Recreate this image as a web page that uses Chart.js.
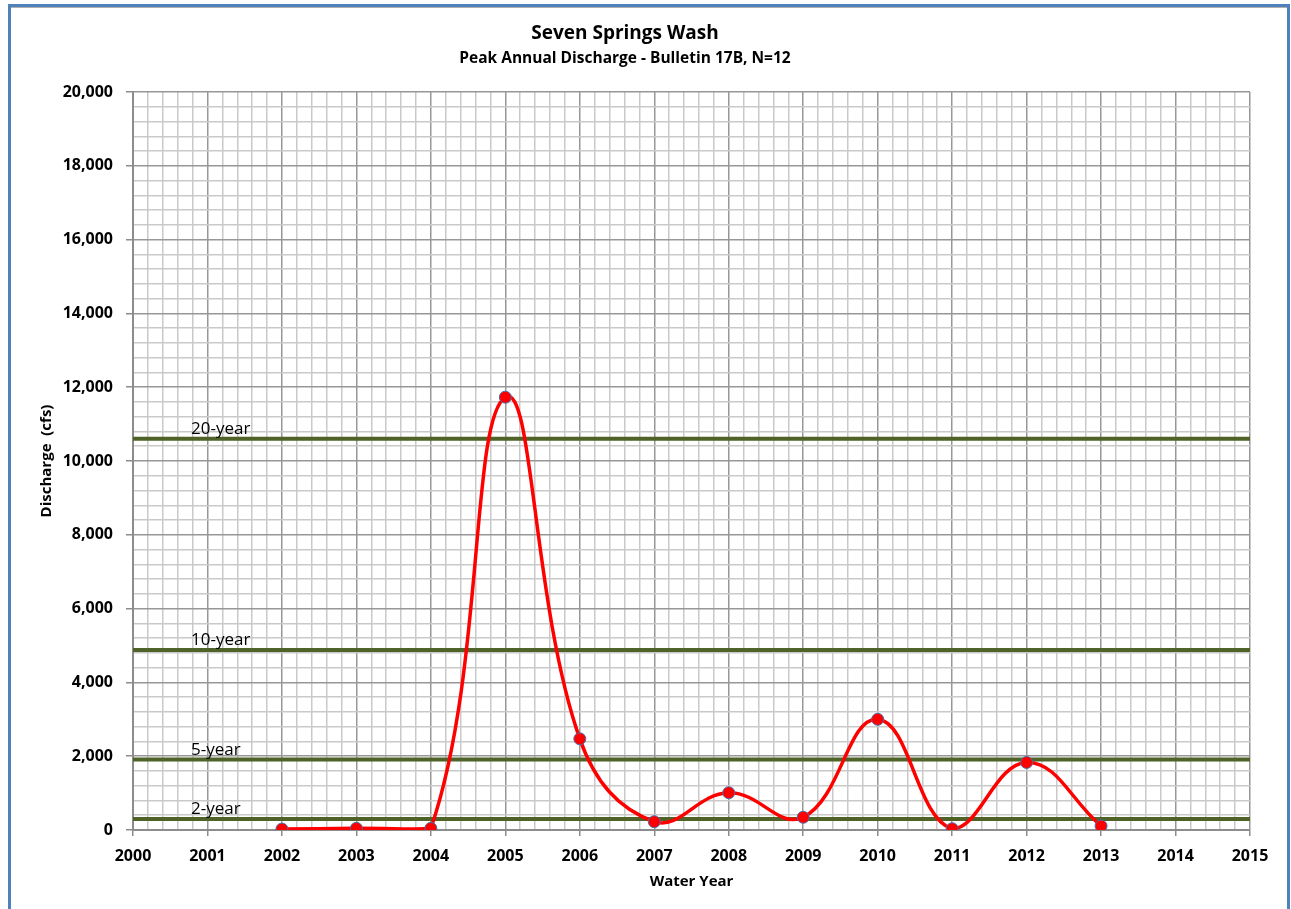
<!DOCTYPE html>
<html><head><meta charset="utf-8">
<script src="https://cdn.jsdelivr.net/npm/chart.js@4.4.1/dist/chart.umd.min.js"></script>
<style>
html,body{margin:0;padding:0;background:#fff;overflow:hidden}
#wrap{position:relative;width:1291px;height:909px}
canvas{position:absolute;left:0;top:0}
#frame{position:absolute;left:8px;top:4px;width:1282px;height:930px;border-left:3px solid #4f81bd;border-top:3px solid #4f81bd;border-right:3px solid #4f81bd;box-sizing:border-box;pointer-events:none}
#frame2{position:absolute;left:11px;top:7px;width:1276px;height:930px;border-top:1px solid #b0b0b0;box-sizing:border-box;pointer-events:none}
</style></head><body>
<div id="wrap"><canvas id="c" width="1291" height="909"></canvas><div id="frame"></div><div id="frame2"></div></div>
<script>
// ---- data ----
const years = [2002, 2003, 2004, 2005, 2006, 2007, 2008, 2009, 2010, 2011, 2012, 2013];
const discharge = [25, 45, 45, 11730, 2470, 225, 1010, 345, 3000, 35, 1830, 110];
const returnPeriodLabels = ['2-year', '5-year', '10-year', '20-year'];
const returnPeriodFlows = [300, 1910, 4880, 10600];
const xRange = [2000, 2015];
const yRange = [0, 20000];
const xMajorStep = 1, xMinorStep = 0.2;
const yMajorStep = 2000, yMinorStep = 400;

const FONT = "'Open Sans', 'DejaVu Sans', sans-serif";
const OLIVE = '#4f6228';

function isMult(v, step) { const r = v / step; return Math.abs(r - Math.round(r)) < 1e-6; }

const refDatasets = returnPeriodFlows.map((f, i) => ({
  label: returnPeriodLabels[i],
  data: [{x: xRange[0], y: f}, {x: xRange[1], y: f}],
  borderColor: OLIVE,
  borderWidth: 4,
  pointRadius: 0,
  tension: 0,
  order: 2
}));

const refLabelPlugin = {
  id: 'refLabels',
  afterDatasetsDraw(chart) {
    const {ctx, scales: {x, y}} = chart;
    ctx.save();
    ctx.font = "17px " + FONT;
    ctx.fillStyle = '#000';
    ctx.textAlign = 'left';
    ctx.textBaseline = 'alphabetic';
    returnPeriodFlows.forEach((f, i) => {
      const px = x.getPixelForValue(xRange[0]) + 58;
      const py = y.getPixelForValue(f) - 5;
      ctx.fillText(returnPeriodLabels[i], px, py);
    });
    ctx.restore();
  }
};

new Chart(document.getElementById('c'), {
  type: 'line',
  data: {
    datasets: [
      {
        label: 'Peak Annual Discharge',
        data: years.map((yr, i) => ({x: yr, y: discharge[i]})),
        borderColor: '#ff0000',
        borderWidth: 3.5,
        tension: 0.42,
        pointRadius: 6,
        pointBackgroundColor: '#ff0000',
        pointBorderColor: '#4a6fae',
        pointBorderWidth: 1,
        order: 0
      },
      ...refDatasets
    ]
  },
  options: {
    responsive: false,
    animation: false,
    devicePixelRatio: 1,
    layout: {padding: {top: 22, right: 41, bottom: 0, left: 0}},
    plugins: {
      legend: {display: false},
      tooltip: {enabled: false},
      title: {
        display: true, text: 'Seven Springs Wash', color: '#000',
        font: {family: FONT, size: 19, weight: 'bold'},
        padding: {top: 0, bottom: 4}
      },
      subtitle: {
        display: true, text: 'Peak Annual Discharge - Bulletin 17B, N=12', color: '#000',
        font: {family: FONT, size: 15.5, weight: 'bold'},
        padding: {top: 0, bottom: 24.6}
      }
    },
    scales: {
      x: {
        type: 'linear',
        min: xRange[0], max: xRange[1],
        afterFit(s) { s.height = 79; },
        ticks: {
          stepSize: xMinorStep, autoSkip: false, maxRotation: 0, padding: 11,
          color: '#000', font: {family: FONT, size: 16, weight: 'bold'},
          callback: v => isMult(v, xMajorStep) ? String(Math.round(v)) : ''
        },
        grid: {
          color: c => (c.tick && isMult(c.tick.value, xMajorStep)) ? '#979797' : '#c9c9c9',
          lineWidth: 1.5,
          tickLength: 6,
          tickColor: c => (c.tick && isMult(c.tick.value, xMajorStep)) ? '#8c8c8c' : 'rgba(0,0,0,0)'
        },
        border: {color: '#8c8c8c', width: 2},
        title: {
          display: true, text: 'Water Year', color: '#000',
          font: {family: FONT, size: 15, weight: 'bold'},
          padding: {top: 0, bottom: 18}
        }
      },
      y: {
        type: 'linear',
        min: yRange[0], max: yRange[1],
        afterFit(s) { s.width = 133; },
        ticks: {
          stepSize: yMinorStep, autoSkip: false, padding: 13,
          color: '#000', font: {family: FONT, size: 16, weight: 'bold'},
          callback: v => isMult(v, yMajorStep) ? v.toLocaleString('en-US') : ''
        },
        grid: {
          color: c => (c.tick && isMult(c.tick.value, yMajorStep)) ? '#979797' : '#c9c9c9',
          lineWidth: 1.5,
          tickLength: 7,
          tickColor: c => (c.tick && isMult(c.tick.value, yMajorStep)) ? '#8c8c8c' : 'rgba(0,0,0,0)'
        },
        border: {color: '#8c8c8c', width: 2},
        title: {
          display: true, text: 'Discharge  (cfs)', color: '#000',
          font: {family: FONT, size: 15, weight: 'bold'},
          padding: {top: 38, bottom: 0}
        }
      }
    }
  },
  plugins: [refLabelPlugin]
});
</script>
</body></html>
